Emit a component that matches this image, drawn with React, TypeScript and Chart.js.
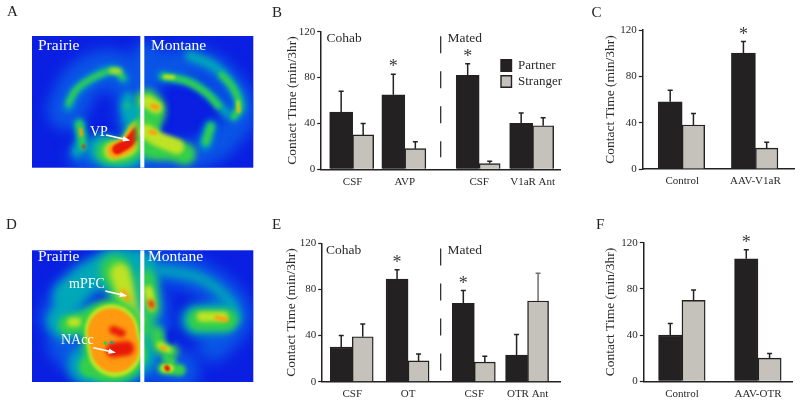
import React, { useEffect, useRef } from "react";
import { Chart, registerables } from "chart.js";

Chart.register(...registerables);

const SERIF = "'Liberation Serif', 'Times New Roman', serif";
const INK = "#232122";
const STRANGER_FILL = "#c4c2ba";
const TEXT = "#2b2a2a";

/* ---------- bar data ---------- */
const groupsB = ["CSF", "AVP", "CSF", "V1aR Ant"];
const partnerB = [50, 65, 82, 40];
const strangerB = [30, 18, 5, 38];
const partnerTopB = [68, 83, 92, 49];
const strangerTopB = [40, 24, 7, 45];
const starsB = [false, true, true, false];

const groupsC = ["Control", "AAV-V1aR"];
const partnerC = [58, 100];
const strangerC = [38, 18];
const partnerTopC = [68, 110];
const strangerTopC = [48, 23];
const starsC = [false, true];

const groupsE = ["CSF", "OT", "CSF", "OTR Ant"];
const partnerE = [30, 89, 68, 23];
const strangerE = [39, 18, 17, 70];
const partnerTopE = [40, 97, 79, 41];
const strangerTopE = [50, 24, 22, 94];
const starsE = [false, true, true, false];

const groupsF = ["Control", "AAV-OTR"];
const partnerF = [40, 106];
const strangerF = [70, 20];
const partnerTopF = [50, 114];
const strangerTopF = [79, 24];
const starsF = [false, true];

const yTicks = [0, 40, 80, 120];

/* ---------- heat-map strokes (photographic panels, in image units) ---------- */
type Stroke = [string, number, number, number[]];
const C1 = "#0a55e6", C2 = "#00a8b8", C3 = "#35cf4a", C4 = "#bfe324", C5 = "#ff9a10", C6 = "#e81808";

const heatA: Stroke[] = [
  [C1, 40, 7, [200, 330, 250, 240, 340, 210, 400, 270, 410, 350]],
  [C1, 30, 7, [250, 470, 320, 480, 415, 460]],
  [C1, 30, 7, [480, 200, 600, 190, 690, 260, 725, 340, 660, 430]],
  [C1, 30, 7, [440, 170, 440, 460, 560, 470, 620, 450]],
  [C2, 9, 3, [205, 320, 225, 275, 285, 230, 345, 210, 372, 238]],
  [C3, 5, 2, [205, 310, 232, 265, 290, 228, 345, 212, 368, 232]],
  [C4, 5, 2, [335, 212, 358, 214]],
  [C2, 12, 3, [238, 372, 245, 420, 232, 456]],
  [C3, 7, 2, [238, 372, 246, 420, 250, 442]],
  [C5, 3, 1, [242, 388, 244, 405]],
  [C6, 3, 1, [251, 438, 252, 442]],
  [C2, 12, 3, [385, 295, 380, 325, 415, 360]],
  [C3, 4, 2, [380, 318, 392, 322]],
  [C2, 30, 4, [305, 445, 360, 468, 418, 430, 415, 350]],
  [C3, 24, 3, [325, 455, 380, 452, 416, 405]],
  [C4, 19, 2, [340, 453, 385, 438, 414, 392]],
  [C5, 15, 1.5, [345, 452, 385, 432, 412, 392]],
  [C6, 10, 1, [352, 448, 385, 428, 410, 398]],
  [C2, 9, 3, [485, 228, 570, 245, 630, 285, 680, 340]],
  [C3, 6, 2, [490, 230, 560, 244, 620, 280, 655, 318]],
  [C4, 4, 1.5, [495, 230, 520, 232]],
  [C2, 10, 3, [570, 168, 640, 198, 695, 255, 722, 320, 700, 350]],
  [C3, 6, 2, [665, 225, 700, 265, 718, 320, 702, 350]],
  [C4, 3, 1.5, [714, 305, 716, 335]],
  [C5, 2, 1, [716, 322, 716, 332]],
  [C2, 12, 3, [632, 378, 616, 432]],
  [C3, 7, 2, [632, 380, 618, 425]],
  [C3, 22, 3, [440, 300, 465, 330, 445, 375]],
  [C4, 13, 2, [442, 305, 468, 322]],
  [C5, 5, 1.5, [458, 318, 470, 322]],
  [C3, 22, 3, [440, 380, 450, 440, 520, 450, 555, 462]],
  [C4, 15, 2, [440, 395, 470, 415, 530, 440]],
  [C5, 4, 1.5, [452, 395, 466, 398]],
];

const heatD: Stroke[] = [
  [C1, 36, 7, [170, 340, 215, 265, 300, 205, 410, 175]],
  [C1, 34, 7, [190, 420, 260, 480, 400, 500]],
  [C1, 34, 7, [450, 190, 560, 205, 670, 270, 705, 340, 640, 420]],
  [C1, 40, 7, [450, 300, 460, 460, 540, 495]],
  [C2, 30, 5, [205, 270, 290, 205, 410, 180]],
  [C2, 18, 5, [170, 345, 215, 265]],
  [C2, 40, 6, [350, 190, 400, 300, 415, 380]],
  [C3, 30, 4, [345, 195, 395, 290, 412, 360]],
  [C4, 20, 3, [360, 205, 385, 275, 405, 325]],
  [C5, 5, 2, [370, 260, 385, 285]],
  [C2, 30, 5, [195, 360, 285, 340]],
  [C3, 20, 3, [205, 360, 280, 345]],
  [C4, 9, 2, [215, 352, 235, 352]],
  [C2, 40, 5, [265, 480, 320, 490, 410, 450]],
  [C3, 22, 2.5, [270, 485, 330, 490, 405, 450]],
  [C4, 13, 1.5, [320, 480, 375, 475, 400, 440]],
  [C3, 62, 3, [335, 375, 345, 440]],
  [C4, 54, 1.5, [335, 378, 345, 435]],
  [C5, 48, 1.2, [335, 382, 345, 430]],
  [C6, 15, 2, [340, 435, 380, 430]],
  [C6, 8, 2, [340, 375, 365, 385]],
  [C3, 3.5, 0.5, [316, 414, 317, 415]],
  [C2, 3, 0.3, [335, 412, 336, 413]],
  [C2, 22, 5, [440, 190, 445, 300]],
  [C3, 16, 4, [442, 215, 452, 315]],
  [C4, 9, 2, [445, 255, 455, 305]],
  [C6, 5, 2, [452, 292, 456, 303]],
  [C2, 10, 4, [480, 195, 600, 220, 690, 290, 710, 340]],
  [C2, 32, 5, [590, 345, 665, 340]],
  [C3, 22, 3, [595, 345, 680, 345]],
  [C4, 10, 2, [605, 335, 670, 335]],
  [C5, 4, 1.5, [650, 338, 680, 345]],
  [C3, 14, 3, [470, 385, 480, 425, 515, 440]],
  [C4, 7, 2, [480, 420, 505, 435]],
  [C5, 3, 1, [485, 428, 495, 432]],
  [C3, 9, 2, [500, 460, 515, 470]],
  [C3, 12, 2, [490, 490, 540, 495]],
  [C4, 8, 1.5, [495, 490, 510, 490]],
  [C6, 5, 1, [500, 488, 503, 491]],
  ["#0a20d8", 7, 2, [515, 385, 515, 405]],
];

/* ---------- helpers ---------- */
type Txt = [string, number, number, number, string];

const annotate = {
  id: "annotate",
  beforeDatasetDraw(chart: any, args: any) {
    const ds = chart.data.datasets[args.index];
    if (ds.blur !== undefined) {
      chart.ctx.save();
      chart.ctx.filter = `blur(${ds.blur}px)`;
    }
  },
  afterDatasetDraw(chart: any, args: any) {
    const ds = chart.data.datasets[args.index];
    if (ds.blur !== undefined) chart.ctx.restore();
  },
  beforeDatasetsDraw(chart: any, _a: any, o: any) {
    if (!o.heat) return;
    const { ctx, chartArea: c } = chart;
    ctx.fillStyle = "#0a1fe2";
    ctx.fillRect(c.left, c.top, c.width, c.height);
  },
  afterDatasetsDraw(chart: any, _a: any, o: any) {
    const { ctx, scales } = chart;
    const y = scales.y;
    const x = scales.x;
    // whiskers & significance stars
    chart.data.datasets.forEach((ds: any, di: number) => {
      if (!ds.tops) return;
      const meta = chart.getDatasetMeta(di);
      meta.data.forEach((el: any, i: number) => {
        if (ds.tops[i] == null) return;
        const py = y.getPixelForValue(ds.tops[i]);
        ctx.save();
        ctx.strokeStyle = (ds.whiskers && ds.whiskers[i]) || INK;
        ctx.lineWidth = 1.5;
        ctx.beginPath();
        ctx.moveTo(el.x, el.y);
        ctx.lineTo(el.x, py);
        ctx.moveTo(el.x - 2.5, py);
        ctx.lineTo(el.x + 2.5, py);
        ctx.stroke();
        if (ds.stars && ds.stars[i]) {
          ctx.fillStyle = "#3c3b3b";
          ctx.font = `18px ${SERIF}`;
          ctx.textAlign = "center";
          ctx.textBaseline = "alphabetic";
          ctx.fillText("*", el.x, py - 2);
        }
        ctx.restore();
      });
    });
    // dashed divider
    if (o.divider) {
      const px = x.getPixelForValue(o.divider.at);
      ctx.save();
      ctx.strokeStyle = INK;
      ctx.lineWidth = 1.2;
      ctx.setLineDash([17, 18]);
      ctx.beginPath();
      ctx.moveTo(px, y.getPixelForValue(o.divider.from));
      ctx.lineTo(px, y.getPixelForValue(o.divider.to));
      ctx.stroke();
      ctx.restore();
    }
    // white gap & arrows on photographic panels
    if (o.heat) {
      ctx.save();
      ctx.fillStyle = "#fff";
      ctx.fillRect(x.getPixelForValue(421), chart.chartArea.top, x.getPixelForValue(433) - x.getPixelForValue(421), chart.chartArea.height);
      (o.arrows || []).forEach((a: number[]) => {
        const x0 = x.getPixelForValue(a[0]), y0 = y.getPixelForValue(a[1]);
        const x1 = x.getPixelForValue(a[2]), y1 = y.getPixelForValue(a[3]);
        const ang = Math.atan2(y1 - y0, x1 - x0);
        ctx.strokeStyle = "#fff";
        ctx.lineWidth = 1.6;
        ctx.beginPath();
        ctx.moveTo(x0, y0);
        ctx.lineTo(x1, y1);
        ctx.stroke();
        ctx.beginPath();
        ctx.moveTo(x1 + 2 * Math.cos(ang), y1 + 2 * Math.sin(ang));
        ctx.lineTo(x1 - 6 * Math.cos(ang - 0.45), y1 - 6 * Math.sin(ang - 0.45));
        ctx.lineTo(x1 - 6 * Math.cos(ang + 0.45), y1 - 6 * Math.sin(ang + 0.45));
        ctx.closePath();
        ctx.fill();
      });
      ctx.restore();
    }
    // text labels
    (o.texts || []).forEach((t: Txt) => {
      ctx.save();
      ctx.fillStyle = t[4];
      ctx.font = `${t[3]}px ${SERIF}`;
      ctx.textAlign = "left";
      ctx.textBaseline = "alphabetic";
      ctx.fillText(t[0], t[1], t[2]);
      ctx.restore();
    });
  },
  afterLayout(chart: any, _a: any, o: any) {
    if (o.legendAt && chart.legend) {
      const lg = chart.legend;
      lg.left = o.legendAt[0];
      lg.top = o.legendAt[1];
      lg.right = chart.width;
      lg.bottom = chart.height;
    }
  },
};

interface BarPanel {
  box: [number, number, number, number]; // canvas left, top, width, height
  axisX: number; endX: number; y120: number; y0: number;
  titleX: number;
  slots: number; at: number[];
  groups: string[]; partner: number[]; stranger: number[]; pTop: number[]; sTop: number[]; stars: boolean[];
  widths: [number, number];
  texts: Txt[];
  divider?: { at: number; from: number; to: number };
  legendAt?: [number, number];
  strangerWhiskers?: (string | null)[];
}

function spread(slots: number, at: number[], vals: any[]) {
  const out: any[] = new Array(slots).fill(null);
  at.forEach((s, i) => { out[s] = vals[i]; });
  return out;
}

function barConfig(p: BarPanel): any {
  const [L, T, W, H] = p.box;
  const labels = spread(p.slots, p.at, p.groups).map((s) => s ?? "");
  return {
    type: "bar",
    data: {
      labels,
      datasets: [
        {
          label: "Partner",
          data: spread(p.slots, p.at, p.partner),
          tops: spread(p.slots, p.at, p.pTop),
          stars: spread(p.slots, p.at, p.stars),
          backgroundColor: INK,
          borderColor: INK,
          borderWidth: 1.4,
          barThickness: p.widths[0],
        },
        {
          label: "Stranger",
          data: spread(p.slots, p.at, p.stranger),
          tops: spread(p.slots, p.at, p.sTop),
          whiskers: p.strangerWhiskers ? spread(p.slots, p.at, p.strangerWhiskers) : undefined,
          backgroundColor: STRANGER_FILL,
          borderColor: INK,
          borderWidth: 1.4,
          barThickness: p.widths[1],
        },
      ],
    },
    options: {
      animation: false,
      responsive: false,
      layout: {
        autoPadding: false,
        padding: { left: 0, top: p.y120 - T, right: L + W - p.endX, bottom: 0 },
      },
      scales: {
        x: {
          grid: { display: false, drawTicks: false },
          border: { display: true, color: INK, width: 1.5 },
          ticks: {
            autoSkip: false,
            maxRotation: 0,
            minRotation: 0,
            padding: 6,
            color: TEXT,
            font: { family: SERIF, size: 11 },
          },
          afterFit: (s: any) => { s.height = T + H - p.y0; },
        },
        y: {
          min: 0,
          max: 120,
          afterBuildTicks: (s: any) => { s.ticks = yTicks.map((value) => ({ value })); },
          grid: { drawOnChartArea: false, tickLength: 3.5, tickColor: INK, tickWidth: 1.2 },
          border: { display: true, color: INK, width: 1.5 },
          ticks: { padding: 2, color: TEXT, font: { family: SERIF, size: 11 } },
          title: {
            display: true,
            text: "Contact Time (min/3hr)",
            color: TEXT,
            font: { family: SERIF, size: 13.5 },
            padding: { top: p.titleX - L - 8, bottom: 0 },
          },
          afterFit: (s: any) => { s.width = p.axisX - L; },
        },
      },
      plugins: {
        legend: p.legendAt
          ? {
              display: true,
              position: "chartArea",
              align: "start",
              onClick: null,
              labels: { boxWidth: 10.5, boxHeight: 11.5, padding: 3, color: TEXT, font: { family: SERIF, size: 13 } },
            }
          : { display: false },
        tooltip: { enabled: false },
        annotate: { texts: p.texts, divider: p.divider, legendAt: p.legendAt },
      },
    },
  };
}

function heatConfig(box: [number, number, number, number], area: [number, number, number, number], yRange: [number, number], strokes: Stroke[], texts: Txt[], arrows: number[][]): any {
  const [, , W, H] = box;
  return {
    type: "line",
    data: {
      // Chart.js paints the first dataset last, so the hottest strokes go first
      datasets: strokes.slice().reverse().map(([color, width, blur, pts]) => {
        const data: { x: number; y: number }[] = [];
        for (let i = 0; i < pts.length; i += 2) data.push({ x: pts[i], y: pts[i + 1] });
        return {
          data,
          borderColor: color,
          borderWidth: width,
          blur,
          tension: 0.4,
          pointRadius: 0,
          borderCapStyle: "round",
          borderJoinStyle: "round",
          clip: 0,
        };
      }),
    },
    options: {
      animation: false,
      responsive: false,
      layout: { autoPadding: false, padding: { left: area[0], top: area[1], right: W - area[2], bottom: H - area[3] } },
      scales: {
        x: { type: "linear", display: false, min: 96, max: 760 },
        y: { type: "linear", display: false, min: yRange[0], max: yRange[1], reverse: true },
      },
      plugins: {
        legend: { display: false },
        tooltip: { enabled: false },
        annotate: { heat: true, texts, arrows },
      },
    },
  };
}

const panelB: BarPanel = {
  box: [270, 0, 300, 195], axisX: 320.7, endX: 560.7, y120: 31.7, y0: 169.3, titleX: 292,
  slots: 184, at: [24, 64, 121, 162], groups: groupsB, partner: partnerB, stranger: strangerB,
  pTop: partnerTopB, sTop: strangerTopB, stars: starsB, widths: [23, 21],
  divider: { at: 91.5, from: 116, to: 10.5 },
  texts: [["B", 2, 17, 15, "#222"], ["Cohab", 56.5, 42, 13.5, TEXT], ["Mated", 177.5, 42, 13.5, TEXT]],
  legendAt: [228, 56],
};
const panelC: BarPanel = {
  box: [570, 0, 230, 195], axisX: 642.3, endX: 794, y120: 30, y0: 169, titleX: 610.7,
  slots: 116, at: [30, 86], groups: groupsC, partner: partnerC, stranger: strangerC,
  pTop: partnerTopC, sTop: strangerTopC, stars: starsC, widths: [24, 22.5],
  texts: [["C", 21.5, 17, 15, "#222"]],
};
const panelE: BarPanel = {
  box: [270, 200, 300, 203], axisX: 321.7, endX: 560.7, y120: 243.3, y0: 381.7, titleX: 291.3,
  slots: 184, at: [23, 66, 117, 158], groups: groupsE, partner: partnerE, stranger: strangerE,
  pTop: partnerTopE, sTop: strangerTopE, stars: starsE, widths: [22, 21],
  divider: { at: 91.1, from: 115.5, to: 9.5 },
  texts: [["E", 2, 29, 15, "#222"], ["Cohab", 56, 54, 13.5, TEXT], ["Mated", 177.5, 54, 13.5, TEXT]],
  strangerWhiskers: [null, null, null, "#6f6e6c"],
};
const panelF: BarPanel = {
  box: [570, 200, 230, 203], axisX: 643.3, endX: 792.7, y120: 242.7, y0: 381.3, titleX: 610,
  slots: 114, at: [29, 87], groups: groupsF, partner: partnerF, stranger: strangerF,
  pTop: partnerTopF, sTop: strangerTopF, stars: starsF, widths: [23.4, 23.2],
  texts: [["F", 26, 29, 15, "#222"]],
};

const textsA: Txt[] = [
  ["A", 7, 16, 15, "#222"],
  ["Prairie", 38, 50, 15.5, "#fff"],
  ["Montane", 151, 50, 15.5, "#fff"],
  ["VP", 90, 136, 14, "#fff"],
];
const textsD: Txt[] = [
  ["D", 6, 29, 15, "#222"],
  ["Prairie", 38, 61, 15.5, "#fff"],
  ["Montane", 148, 61, 15.5, "#fff"],
  ["mPFC", 69, 88, 14, "#fff"],
  ["NAcc", 61, 144, 14, "#fff"],
];
const arrowsA = [[318, 405, 385, 420]];
const arrowsD = [[316, 258, 376, 272], [280, 428, 342, 442]];

function Panel({ box, config }: { box: [number, number, number, number]; config: any }) {
  const ref = useRef<HTMLCanvasElement>(null);
  useEffect(() => {
    const chart = new Chart(ref.current as HTMLCanvasElement, { ...config, plugins: [annotate] });
    return () => chart.destroy();
  }, [config]);
  const [l, t, w, h] = box;
  return <canvas ref={ref} width={w} height={h} style={{ position: "absolute", left: l, top: t, width: w, height: h, display: "block" }} />;
}

const boxA: [number, number, number, number] = [0, 0, 265, 190];
const boxD: [number, number, number, number] = [0, 200, 265, 203];
const cfgA = heatConfig(boxA, [32, 36, 253.3, 167.7], [108, 503], heatA, textsA, arrowsA);
const cfgD = heatConfig(boxD, [32, 50.3, 253.3, 182], [136, 531], heatD, textsD, arrowsD);
const cfgB = barConfig(panelB);
const cfgC = barConfig(panelC);
const cfgE = barConfig(panelE);
const cfgF = barConfig(panelF);

export default function App() {
  return (
    <div style={{ position: "absolute", left: 0, top: 0, width: 800, height: 403, background: "#fff", overflow: "hidden" }}>
      <Panel box={boxA} config={cfgA} />
      <Panel box={boxD} config={cfgD} />
      <Panel box={panelB.box} config={cfgB} />
      <Panel box={panelC.box} config={cfgC} />
      <Panel box={panelE.box} config={cfgE} />
      <Panel box={panelF.box} config={cfgF} />
    </div>
  );
}
